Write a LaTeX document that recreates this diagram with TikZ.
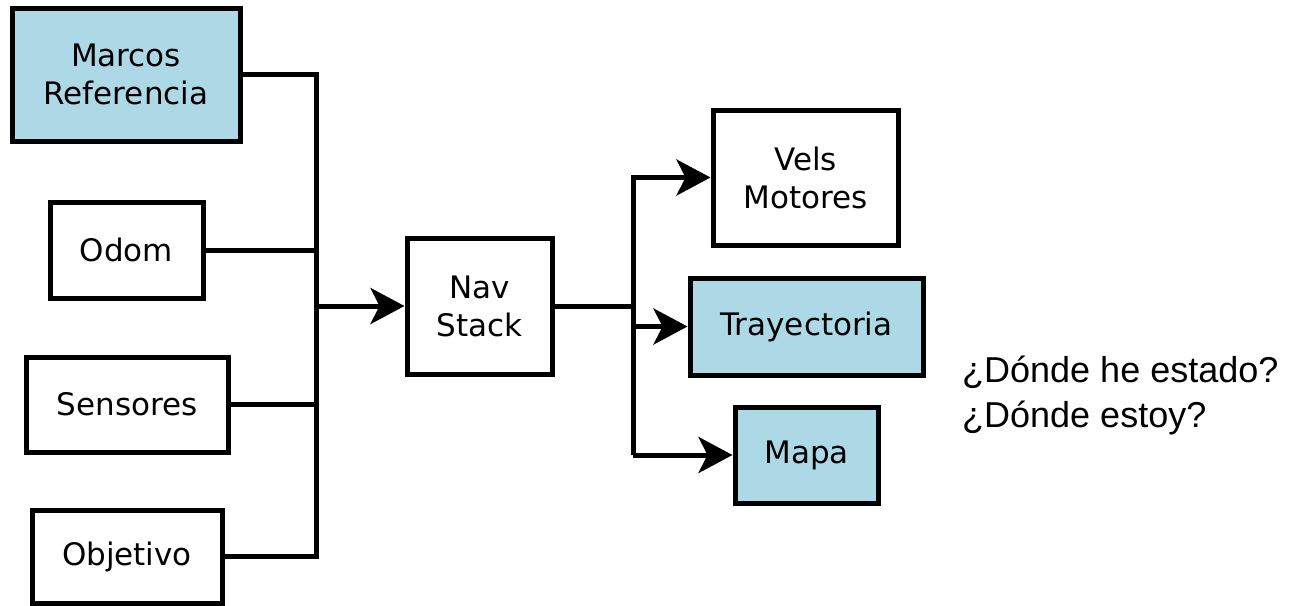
\documentclass[tikz,border=0pt]{standalone}
\usepackage{fontspec}
\setmainfont{DejaVu Sans}
\newfontfamily\notefont{Liberation Sans}
\usetikzlibrary{arrows.meta}
\definecolor{boxblue}{RGB}{173,216,230}
\tikzset{
  block/.style={draw=black, line width=5pt, fill=white, align=center,
    inner sep=0pt, font=\fontsize{31}{38}\selectfont},
  hl/.style={fill=boxblue},
  conn/.style={draw=black, line width=5pt, line join=miter},
  arr/.style={-{Stealth[length=34pt,width=36pt,inset=9pt]}},
}
\begin{document}
\begin{tikzpicture}[x=1pt,y=-1pt]
  \useasboundingbox (0,0) rectangle (1301,605);

  % inputs
  \node[block,hl,minimum width=228pt,minimum height=133pt] (marcos) at (126,74.5) {Marcos\\Referencia};
  \node[block,minimum width=153pt,minimum height=96pt] (odom) at (126.5,250) {Odom};
  \node[block,minimum width=202pt,minimum height=95pt] (sensores) at (127,404.5) {Sensores};
  \node[block,minimum width=190pt,minimum height=93pt] (objetivo) at (127,556.5) {Objetivo};

  % core
  \node[block,minimum width=145pt,minimum height=136pt] (nav) at (479.5,306) {Nav\\Stack};

  % outputs
  \node[block,minimum width=185pt,minimum height=135pt] (vels) at (805.5,177.5) {Vels\\Motores};
  \node[block,hl,minimum width=233pt,minimum height=97pt] (tray) at (806.5,326.5) {Trayectoria};
  \node[block,hl,minimum width=143pt,minimum height=96pt] (mapa) at (806.5,455) {Mapa};

  % note (base anchor sits on the last line)
  \node[anchor=base west, inner sep=0pt, align=left,
        font=\notefont\fontsize{36}{45}\selectfont] (nota) at (962,427)
        {¿Dónde he estado?\\¿Dónde estoy?};

  % bus positions
  \coordinate (busL) at (316,0);
  \coordinate (busR) at (633,0);

  % input bus
  \draw[conn] (marcos.east) -- (marcos.east -| busL) -- (objetivo.east -| busL) -- (objetivo.east);
  \draw[conn] (odom.east) -- (odom.east -| busL);
  \draw[conn] (sensores.east) -- (sensores.east -| busL);
  \draw[conn,arr] (nav.west -| busL) -- (nav.west);

  % output bus
  \draw[conn] (nav.east) -- (nav.east -| busR);
  \draw[conn,arr] (mapa.west -| busR) -- (vels.west -| busR) -- (vels.west);
  \draw[conn,arr] (tray.west -| busR) -- (tray.west);
  \draw[conn,arr] (mapa.west -| busR) -- (mapa.west);
\end{tikzpicture}
\end{document}
